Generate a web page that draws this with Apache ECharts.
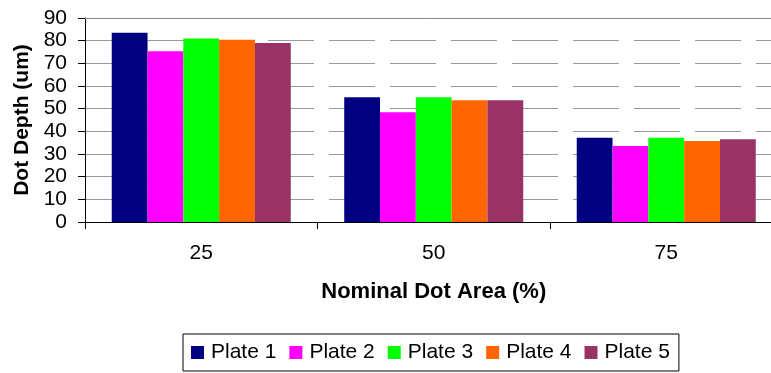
<!DOCTYPE html>
<html>
<head>
<meta charset="utf-8">
<script src="https://cdn.jsdelivr.net/npm/echarts@6/dist/echarts.min.js"></script>
<style>
html,body{margin:0;padding:0;background:#fff;}
#chart{width:771px;height:373px;}
</style>
</head>
<body>
<div id="chart"></div>
<script>
const categories = ['25', '50', '75'];
const plate1 = [83.5, 55.0, 37.2];
const plate2 = [75.3, 48.4, 33.5];
const plate3 = [81.0, 55.0, 37.2];
const plate4 = [80.4, 53.7, 35.7];
const plate5 = [79.0, 53.7, 36.5];
const seriesNames = ['Plate 1', 'Plate 2', 'Plate 3', 'Plate 4', 'Plate 5'];
const seriesValues = [plate1, plate2, plate3, plate4, plate5];
const colors = ['#000080', '#FF00FF', '#00FF00', '#FF6600', '#993366'];

const FONT = '"Liberation Sans", Arial, sans-serif';
const chart = echarts.init(document.getElementById('chart'), null, {renderer: 'canvas'});

chart.setOption({
  animation: false,
  color: colors,
  textStyle: {fontFamily: FONT},
  grid: {left: 85, top: 18, width: 697.5, height: 204, containLabel: false, outerBoundsMode: 'none'},
  legend: {
    left: 183, top: 334,
    padding: [8, 9, 8, 8],
    borderColor: '#000', borderWidth: 1,
    itemWidth: 13, itemHeight: 13, itemGap: 13,
    icon: 'rect',
    textStyle: {fontFamily: FONT, fontSize: 21, color: '#000', padding: [0, 0, 0, 2]},
    data: seriesNames
  },
  xAxis: [{
    type: 'category',
    data: categories,
    position: 'bottom',
    axisLine: {lineStyle: {color: '#000', width: 1}},
    axisTick: {show: true, length: 7, lineStyle: {color: '#000'}},
    axisLabel: {color: '#000', fontSize: 21, margin: 21, fontFamily: FONT},
    name: 'Nominal Dot Area (%)',
    nameLocation: 'middle',
    nameGap: 59,
    nameTextStyle: {color: '#000', fontSize: 22, fontWeight: 'bold', fontFamily: FONT},
    splitLine: {show: false}
  }, {
    type: 'category',
    data: categories,
    position: 'top',
    axisLine: {show: true, lineStyle: {color: '#888', width: 1}},
    axisTick: {show: false},
    axisLabel: {show: false},
    splitLine: {show: false}
  }],
  yAxis: {
    type: 'value',
    min: 0, max: 90, interval: 10,
    axisLine: {show: true, lineStyle: {color: '#000', width: 1}},
    axisTick: {show: true, length: 7, lineStyle: {color: '#000'}},
    axisLabel: {color: '#000', fontSize: 21, margin: 18, fontFamily: FONT},
    splitLine: {show: true, lineStyle: {color: '#999', width: 1, type: [46, 15]}},
    name: 'Dot Depth (um)',
    nameLocation: 'middle',
    nameGap: 52,
    nameRotate: 90,
    nameTextStyle: {color: '#000', fontSize: 21, fontWeight: 'bold', fontFamily: FONT}
  },
  series: seriesNames.map((n, i) => ({
    name: n,
    type: 'bar',
    xAxisIndex: 0,
    data: seriesValues[i],
    barGap: '0%',
    barCategoryGap: '23%',
    itemStyle: {color: colors[i]}
  }))
});
</script>
</body>
</html>
